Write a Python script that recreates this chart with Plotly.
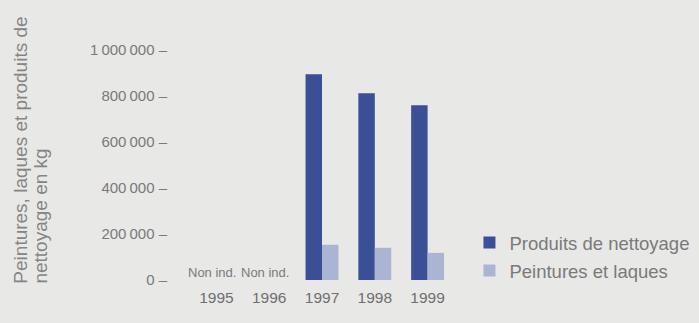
import plotly.graph_objects as go

years = ["1995", "1996", "1997", "1998", "1999"]
nettoyage = [None, None, 895000, 812000, 760000]
peintures = [None, None, 153000, 140000, 118000]
missing_idx = [0, 1]  # 1995 and 1996 have no data
missing_label = "Non ind."

title_lines = ["Peintures, laques et produits de", "nettoyage en kg"]

tick_vals = [0, 200000, 400000, 600000, 800000, 1000000]
tick_text = ["0 –", "200\u2009000 –", "400\u2009000 –", "600\u2009000 –",
             "800\u2009000 –", "1\u2009000\u2009000 –"]

W, H = 699, 323
ML, MR, MT, MB = 189.5, 244.5, 30, 41
PW = W - ML - MR
PH = H - MT - MB


def px_x(p):
    return (p - ML) / PW


def px_y(p):
    return 1 - (p - MT) / PH


BG = "#e8e8e6"
TXT = "#7a7a7a"
DARK = "#3b4f97"
LIGHT = "#aab5d3"

# y range so that 0 sits at 280 px and 1 000 000 at 50 px
scale = 230 / 1e6
y_top = 1e6 + (50 - MT) / scale
y_bot = -(MT + PH - 280) / scale

fig = go.Figure()
fig.add_bar(x=years, y=nettoyage, name="Produits de nettoyage",
            marker=dict(color=DARK, line=dict(width=0)), legendgroup="a")
fig.add_bar(x=years, y=peintures, name="Peintures et laques",
            marker=dict(color=LIGHT, line=dict(width=0)), legendgroup="b")

for i in missing_idx:
    fig.add_annotation(x=i, y=0, xref="x", yref="y", text=missing_label,
                       showarrow=False, yanchor="bottom", yshift=-2, xshift=-4,
                       font=dict(size=13, color=TXT, family="Liberation Sans"))

# rotated axis title, one annotation per line, both starting at the bottom
for line, cx in zip(title_lines, [19, 39]):
    fig.add_annotation(x=px_x(cx), y=px_y(286), xref="paper", yref="paper",
                       text=line, textangle=-90, showarrow=False,
                       xanchor="center", yanchor="bottom",
                       font=dict(size=19, color="#858585", family="Liberation Sans"))

fig.update_layout(
    width=W, height=H,
    margin=dict(l=ML, r=MR, t=MT, b=MB, pad=0, autoexpand=False),
    paper_bgcolor=BG, plot_bgcolor=BG,
    barmode="group", bargap=0.377, bargroupgap=0,
    font=dict(family="Liberation Sans", color=TXT),
    showlegend=True,
    legend=dict(x=px_x(470), y=px_y(224), xanchor="left", yanchor="top",
                bgcolor="rgba(0,0,0,0)", font=dict(size=18.5, color=TXT),
                tracegroupgap=1, itemwidth=30),
    xaxis=dict(type="category", categoryorder="array", categoryarray=years,
               range=[-0.5, 4.5], showgrid=False, zeroline=False, showline=False,
               ticks="", tickfont=dict(size=15.5, color="#6f6f6f"), ticklabelstandoff=4),
    yaxis=dict(range=[y_bot, y_top], tickvals=tick_vals, ticktext=tick_text,
               showgrid=False, zeroline=False, showline=False, ticks="",
               tickfont=dict(size=15, color=TXT), ticklabelstandoff=22),
)

fig.write_html("out.html")
